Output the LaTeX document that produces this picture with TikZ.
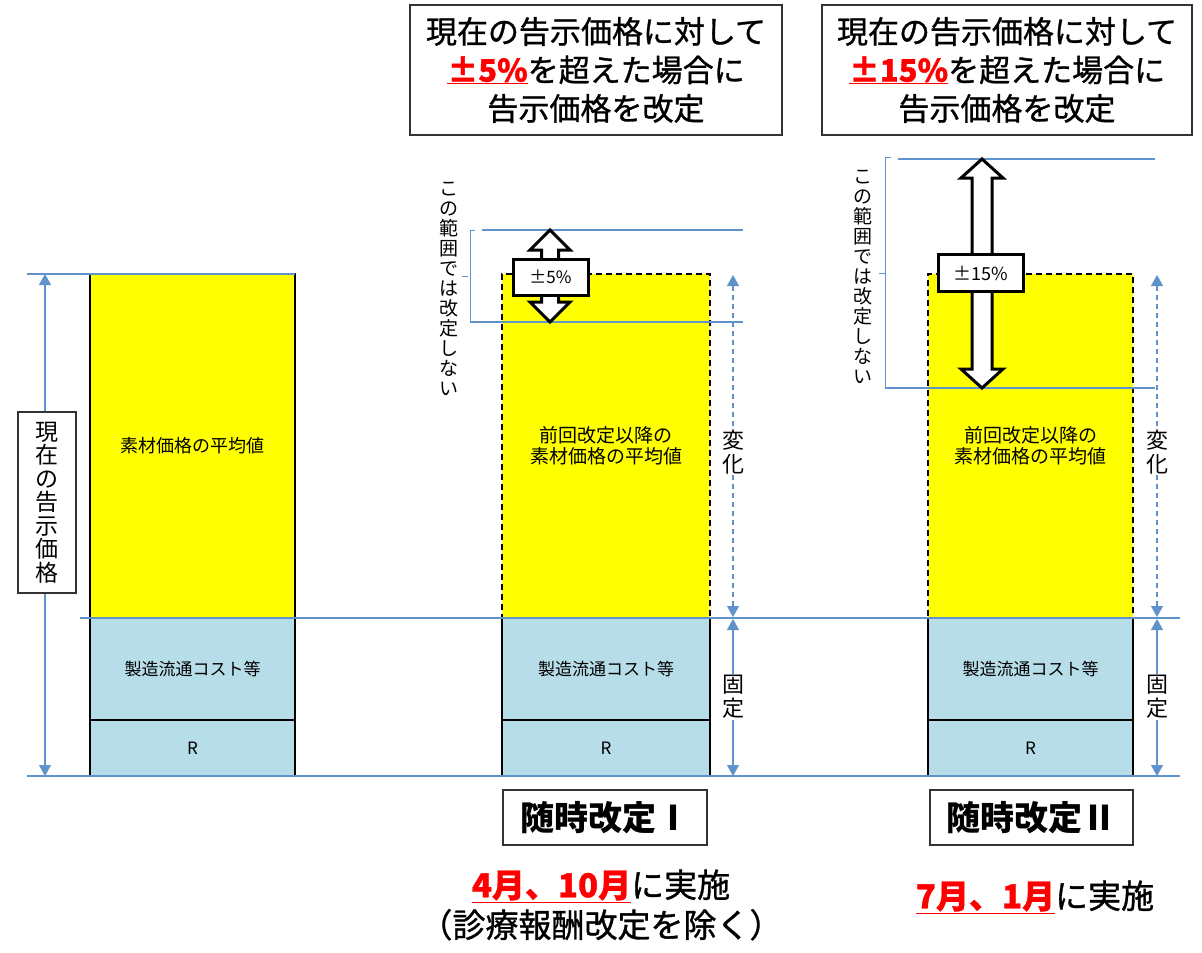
\documentclass[tikz,border=0pt]{standalone}
\usepackage{fontspec}
\setmainfont{Noto Sans CJK JP}
\newfontfamily\semib{Noto Sans CJK JP}[FakeBold=1]
\usetikzlibrary{arrows.meta}
\definecolor{lblue}{RGB}{183,221,232}
\definecolor{lnblue}{RGB}{96,146,204}
\definecolor{ybar}{RGB}{255,255,0}
\definecolor{redtxt}{RGB}{255,0,0}
\newcommand\fs[2]{\fontsize{#1}{#2}\selectfont}
\newcommand\fatdarrow[6]{% cx top bot halfshaft halfhead headlen
  \draw[line width=3pt, fill=white, line join=miter]
    (#1,#2) -- ({#1+#5},{#2+#6}) -- ({#1+#4},{#2+#6}) -- ({#1+#4},{#3-#6})
    -- ({#1+#5},{#3-#6}) -- (#1,#3) -- ({#1-#5},{#3-#6}) -- ({#1-#4},{#3-#6})
    -- ({#1-#4},{#2+#6}) -- ({#1-#5},{#2+#6}) -- cycle;}
\begin{document}
\begin{tikzpicture}[x=1pt,y=-1pt,
  ysolid/.style={draw=black, line width=2.5pt, fill=ybar, inner sep=0pt, outer sep=0pt, align=center, font=\fs{18}{20}},
  ydash/.style={draw=black, line width=2.2pt, dash pattern=on 6pt off 4pt, fill=ybar, inner sep=0pt, outer sep=0pt, align=center, font=\fs{19}{20.5}},
  bbox/.style={draw=black, line width=2.5pt, fill=lblue, inner sep=0pt, outer sep=0pt, font=\fs{17}{20}},
  hline/.style={lnblue, line width=1.2pt},
  dimarrow/.style={lnblue, line width=1.2pt, {Triangle[width=12pt,length=11pt]}-{Triangle[width=12pt,length=11pt]}},
  dasharrow/.style={lnblue, line width=1.2pt, dash pattern=on 5pt off 4pt, {Triangle[width=12pt,length=11pt]}-{Triangle[width=12pt,length=11pt]}},
  vtext/.style={align=center, inner sep=0pt, font=\fs{19}{20}},
  vlabel/.style={align=center, inner sep=1pt, fill=white, font=\fs{22}{24}},
  pctbox/.style={draw=black, line width=3pt, fill=white, inner sep=0pt, font=\fs{17}{18}},
  topbox/.style={draw=black!80, line width=1.3pt, fill=white, align=center, inner sep=0pt, font=\fs{31}{38.5}\semib},
  kaitei/.style={draw=black!80, line width=1.3pt, fill=white, inner sep=0pt, font=\fs{34}{36}\bfseries},
  bottxt/.style={align=center, inner sep=0pt, font=\fs{33}{40}\semib}
]
\useasboundingbox (0,0) rectangle (1202,953);

% ---------- horizontal guide lines ----------
\coordinate (t1a) at (27,274);
\coordinate (m1a) at (80,618);
\coordinate (m1b) at (1180,618);
\coordinate (b1a) at (27,776);
\coordinate (b1b) at (1180,776);

% ---------- bar 1 ----------
\node[ysolid, minimum width=205pt, minimum height=344pt] (y1) at (192.5,446) {素材価格の平均値};
\node[bbox, minimum width=205pt, minimum height=102pt] (c1) at (192.5,669) {製造流通コスト等};
\node[bbox, minimum width=205pt, minimum height=56pt] (r1) at (192.5,748) {R};

% ---------- bar 2 ----------
\node[ydash, minimum width=208pt, minimum height=344pt] (y2) at (606,446) {前回改定以降の\\素材価格の平均値};
\node[bbox, minimum width=208pt, minimum height=102pt] (c2) at (606,669) {製造流通コスト等};
\node[bbox, minimum width=208pt, minimum height=56pt] (r2) at (606,748) {R};

% ---------- bar 3 ----------
\node[ydash, minimum width=205pt, minimum height=344pt] (y3) at (1030.5,446) {前回改定以降の\\素材価格の平均値};
\node[bbox, minimum width=205pt, minimum height=102pt] (c3) at (1030.5,669) {製造流通コスト等};
\node[bbox, minimum width=205pt, minimum height=56pt] (r3) at (1030.5,748) {R};

\draw[hline] (t1a) -- (y1.north east);
\draw[hline] (m1a) -- (m1b);
\draw[hline] (b1a) -- (b1b);

% ---------- left dimension ----------
\coordinate (la1) at (45,274);
\coordinate (la2) at (45,776);
\draw[dimarrow] (la1) -- (la2);
\node[draw=black!80, line width=1.3pt, fill=white, minimum width=58pt, minimum height=181pt, inner sep=0pt, align=center, font=\fs{23}{23.5}] (curlab) at (47,502.5) {現\\在\\の\\告\\示\\価\\格};

% ---------- bar 2 range ----------
\coordinate (u2a) at (482,230);
\coordinate (u2b) at (743,230);
\coordinate (d2a) at (470,322);
\coordinate (d2b) at (743,322);
\draw[hline] (u2a) -- (u2b);
\draw[hline] (d2a) -- (d2b);
\coordinate (br2t) at (475,230);
\coordinate (br2b) at (470,322);
\coordinate (br2m) at (468,276);
\coordinate (br2k) at (462,276);
\draw[lnblue, line width=1pt] (br2t) -| (br2b);
\draw[lnblue, line width=1pt] (br2m) -- (br2k);
\node[vtext] (nr2) at (449,289) {こ\\の\\範\\囲\\で\\は\\改\\定\\し\\な\\い};
\fatdarrow{550}{230}{322}{8.5}{20}{20}
\node[pctbox, minimum width=75pt, minimum height=36pt] (p5) at (550.5,277) {±5\%};

% ---------- bar 3 range ----------
\coordinate (u3a) at (898,159);
\coordinate (u3b) at (1155,159);
\coordinate (d3a) at (885,388);
\coordinate (d3b) at (1155,388);
\draw[hline] (u3a) -- (u3b);
\draw[hline] (d3a) -- (d3b);
\coordinate (br3t) at (891,157);
\coordinate (br3m) at (885,273);
\coordinate (br3k) at (879,273);
\draw[lnblue, line width=1pt] (br3t) -| (d3a);
\draw[lnblue, line width=1pt] (br3m) -- (br3k);
\node[vtext] (nr3) at (863,277) {こ\\の\\範\\囲\\で\\は\\改\\定\\し\\な\\い};
\fatdarrow{982}{159}{388}{10}{21}{19}
\node[pctbox, minimum width=85pt, minimum height=37pt, font=\fs{18}{18}] (p15) at (980.5,273) {±15\%};

% ---------- change / fixed arrows ----------
\coordinate (v2t) at (733,275);
\coordinate (v2m) at (733,617);
\coordinate (f2t) at (733,619);
\coordinate (f2b) at (733,776);
\draw[dasharrow] (v2m) -- (v2t);
\draw[dimarrow] (f2t) -- (f2b);
\node[vlabel] (hen2) at (733,452) {変\\化};
\node[vlabel] (ko2) at (733,697) {固\\定};

\coordinate (v3t) at (1157,275);
\coordinate (v3m) at (1157,617);
\coordinate (f3t) at (1157,619);
\coordinate (f3b) at (1157,776);
\draw[dasharrow] (v3m) -- (v3t);
\draw[dimarrow] (f3t) -- (f3b);
\node[vlabel] (hen3) at (1157,452) {変\\化};
\node[vlabel] (ko3) at (1157,697) {固\\定};

% ---------- top boxes ----------
\node[topbox, minimum width=372pt, minimum height=130pt] (tb1) at (596,70)
  {現在の告示価格に対して\\\textcolor{redtxt}{\bfseries\underline{±5\%}}を超えた場合に\\告示価格を改定};
\node[topbox, minimum width=370pt, minimum height=130pt] (tb2) at (1007,70)
  {現在の告示価格に対して\\\textcolor{redtxt}{\bfseries\underline{±15\%}}を超えた場合に\\告示価格を改定};

% ---------- bottom labels ----------
\node[kaitei, minimum width=204pt, minimum height=55pt] (k1) at (605,817.5) {随時改定Ⅰ};
\node[kaitei, minimum width=203pt, minimum height=55pt] (k2) at (1031.5,817.5) {随時改定Ⅱ};
\node[bottxt] (s1) at (601,905) {\textcolor{redtxt}{\bfseries\underline{4月、10月}}に実施\\（診療報酬改定を除く）};
\node[bottxt] (s2) at (1035,897) {\textcolor{redtxt}{\bfseries\underline{7月、1月}}に実施};
\end{tikzpicture}
\end{document}
